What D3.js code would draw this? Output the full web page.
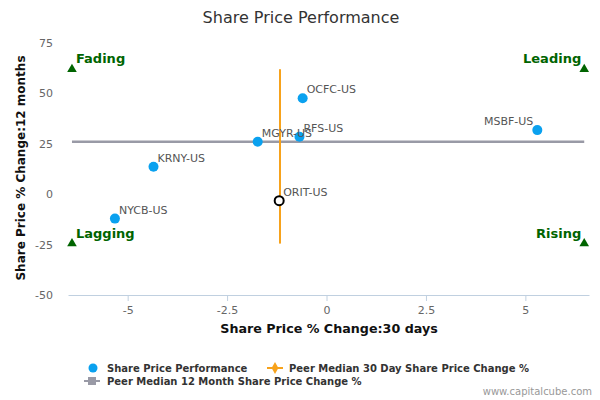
<!DOCTYPE html>
<html><head><meta charset="utf-8">
<script src="https://cdn.jsdelivr.net/npm/d3@7"></script>
<style>body{margin:0;background:#fff;}svg{display:block;font-family:"DejaVu Sans",sans-serif;}</style>
</head><body>
<svg id="c" width="600" height="400"></svg>
<script>
const names = ["OCFC-US","RFS-US","MGYR-US","KRNY-US","NYCB-US","MSBF-US"];
const change30 = [-0.6, -0.68, -1.73, -4.35, -5.32, 5.3];
const change12 = [47.6, 28.5, 26.0, 13.6, -12.1, 31.8];
const labelLeft = [false,false,false,false,false,true];
const focusName = "ORIT-US";
const focus30 = -1.19;
const focus12 = -3.2;
const median30 = -1.17;
const median12 = 26.0;
const xTicks = [-5,-2.5,0,2.5,5];
const yTicks = [-50,-25,0,25,50,75];
const quadrants = [
  {name:"Fading", x:-6.4, y:62, side:"left"},
  {name:"Leading", x:6.48, y:62, side:"right"},
  {name:"Lagging", x:-6.4, y:-24.5, side:"left"},
  {name:"Rising", x:6.48, y:-24.5, side:"right"}
];

const svg = d3.select("#c");
const L=68, R=589, T=43, B=295;
const x = d3.scaleLinear().domain([-6.5,6.6]).range([L,R]);
const y = d3.scaleLinear().domain([-50,75]).range([B,T]);

svg.append("text").attr("x",301).attr("y",23).attr("text-anchor","middle")
  .attr("font-size",16).attr("fill","#333").text("Share Price Performance");

// x axis
const xa = svg.append("g").attr("transform",`translate(0,${B})`)
  .call(d3.axisBottom(x).tickValues(xTicks).tickSize(6).tickSizeOuter(0).tickFormat(d=>String(d)));
xa.select(".domain").attr("stroke","#c0d0e0");
xa.selectAll(".tick line").attr("stroke","#c0d0e0");
xa.selectAll(".tick text").attr("fill","#666").attr("font-size",11).attr("font-family","DejaVu Sans").attr("dy","0.95em");

// y axis
const ya = svg.append("g").attr("transform",`translate(${L-12},0)`)
  .call(d3.axisLeft(y).tickValues(yTicks).tickSize(0).tickFormat(d=>String(d)));
ya.select(".domain").remove();
ya.selectAll(".tick text").attr("fill","#666").attr("font-size",11).attr("font-family","DejaVu Sans").attr("x",-3);

svg.append("text").attr("x",329).attr("y",333).attr("text-anchor","middle")
  .attr("font-size",12.7).attr("font-weight","bold").attr("fill","#111").text("Share Price % Change:30 days");
svg.append("text").attr("transform","translate(25,168) rotate(-90)").attr("text-anchor","middle")
  .attr("font-size",12).attr("font-weight","bold").attr("fill","#111").text("Share Price % Change:12 months");

// median lines
const qx = d3.extent(quadrants, d=>d.x), qy = d3.extent(quadrants, d=>d.y);
svg.append("line").attr("x1",x(qx[0])).attr("x2",x(qx[1])).attr("y1",y(median12)).attr("y2",y(median12))
  .attr("stroke","#999aa6").attr("stroke-width",2.5);
svg.append("line").attr("x1",x(median30)).attr("x2",x(median30)).attr("y1",y(qy[1])).attr("y2",y(qy[0]))
  .attr("stroke","#f7a21b").attr("stroke-width",2);

// quadrant markers
const tri = d3.symbol().type(d3.symbolTriangle).size(40);
quadrants.forEach(q=>{
  svg.append("path").attr("d",tri()).attr("transform",`translate(${x(q.x)},${y(q.y)})`).attr("fill","#006400");
  svg.append("text").attr("x", x(q.x) + (q.side==="left"?4:-3)).attr("y", y(q.y)-6)
    .attr("text-anchor", q.side==="left"?"start":"end")
    .attr("font-size",13).attr("font-weight","bold").attr("fill","#006400").text(q.name);
});

// points
names.forEach((n,i)=>{
  const px=x(change30[i]), py=y(change12[i]);
  svg.append("circle").attr("cx",px).attr("cy",py).attr("r",5).attr("fill","#0aa1ef");
  svg.append("text").attr("x", labelLeft[i]?px-4:px+4).attr("y",py-5)
    .attr("text-anchor", labelLeft[i]?"end":"start")
    .attr("font-size",11).attr("fill","#555").text(n);
});
{
  const px=x(focus30), py=y(focus12);
  svg.append("circle").attr("cx",px).attr("cy",py).attr("r",4.5).attr("fill","#fff").attr("stroke","#000").attr("stroke-width",2);
  svg.append("text").attr("x",px+4).attr("y",py-5).attr("font-size",11).attr("fill","#555").text(focusName);
}

// legend
const lg = svg.append("g").attr("font-size",10).attr("font-weight","bold").attr("fill","#333");
lg.append("circle").attr("cx",93).attr("cy",368).attr("r",4.5).attr("fill","#0aa1ef");
lg.append("text").attr("x",107).attr("y",372).text("Share Price Performance");
lg.append("line").attr("x1",267).attr("x2",283).attr("y1",368).attr("y2",368).attr("stroke","#f7a21b").attr("stroke-width",2);
lg.append("path").attr("d",d3.symbol().type(d3.symbolDiamond).size(40)()).attr("transform","translate(275,368)").attr("fill","#f7a21b");
lg.append("text").attr("x",289).attr("y",372).text("Peer Median 30 Day Share Price Change %");
lg.append("line").attr("x1",84).attr("x2",100).attr("y1",381).attr("y2",381).attr("stroke","#999aa6").attr("stroke-width",2);
lg.append("rect").attr("x",88).attr("y",377).attr("width",8).attr("height",8).attr("fill","#999aa6");
lg.append("text").attr("x",107).attr("y",385).text("Peer Median 12 Month Share Price Change %");

svg.append("text").attr("x",592).attr("y",395).attr("text-anchor","end").attr("font-size",10).attr("fill","#999").text("www.capitalcube.com");
</script>
</body></html>
